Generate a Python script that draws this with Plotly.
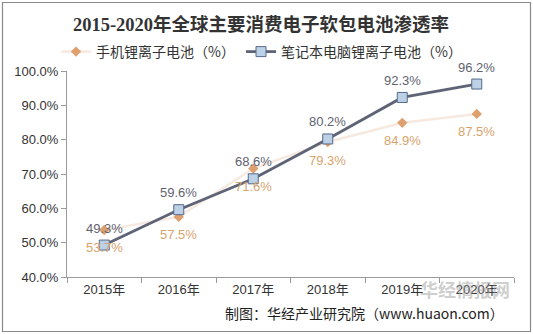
import plotly.graph_objects as go

years = ["2015年", "2016年", "2017年", "2018年", "2019年", "2020年"]
phone = [53.7, 57.5, 71.6, 79.3, 84.9, 87.5]
laptop = [49.3, 59.6, 68.6, 80.2, 92.3, 96.2]
phone_name = "手机锂离子电池（%）"
laptop_name = "笔记本电脑锂离子电池（%）"
title = "2015-2020年全球主要消费电子软包电池渗透率"
source = "制图：华经产业研究院（www.huaon.com）"
watermark = "华经情报网"

FONT = "Liberation Sans, Arial, Noto Sans CJK SC, sans-serif"
CJK = "Noto Sans CJK SC, Liberation Sans, sans-serif"

fig = go.Figure()
fig.add_trace(go.Scatter(
    x=years, y=phone, name=phone_name, mode="lines+markers", legend="legend",
    line=dict(color="#f6e9e0", width=2.5),
    marker=dict(symbol="diamond", size=8, color="#dfa070"),
))
fig.add_trace(go.Scatter(
    x=years, y=laptop, name=laptop_name, mode="lines+markers", legend="legend2",
    line=dict(color="#5f6376", width=2.8),
    marker=dict(symbol="square", size=10, color="#bcd0e6",
                line=dict(color="#56698a", width=1)),
))

# plot area in px: x 67..514, y 71..277
px_w, px_h = 447.0, 206.0
def px(x):
    return (x - 67) / px_w
def py(y):
    return (277 - y) / px_h

annotations = []
for yr, v in zip(years, laptop):
    annotations.append(dict(x=yr, y=v, xref="x", yref="y", text=f"{v:.1f}%",
                            showarrow=False, yshift=17, xanchor="center", yanchor="middle",
                            font=dict(color="#5f6370", size=13, family=FONT)))
for yr, v in zip(years, phone):
    annotations.append(dict(x=yr, y=v, xref="x", yref="y", text=f"{v:.1f}%",
                            showarrow=False, yshift=-18, xanchor="center", yanchor="middle",
                            font=dict(color="#d8a46e", size=13, family=FONT)))
annotations.append(dict(text=watermark, xref="paper", yref="paper", x=px(465), y=py(289),
                        xanchor="center", yanchor="middle", showarrow=False,
                        font=dict(size=18, color="rgba(160,160,160,0.5)", family=CJK,
                                  weight="bold")))
annotations.append(dict(text=source, xref="paper", yref="paper", x=px(506), y=py(313),
                        xanchor="right", yanchor="middle", showarrow=False,
                        font=dict(size=14, color="#222222", family=CJK)))

legend_common = dict(orientation="h", xanchor="left", yanchor="middle",
                     font=dict(size=14, color="#333333", family=CJK),
                     bgcolor="rgba(0,0,0,0)", itemwidth=30)

fig.update_layout(
    width=533, height=334,
    margin=dict(l=67, r=19, t=71, b=57),
    paper_bgcolor="white", plot_bgcolor="white",
    font=dict(family=FONT, size=13, color="#333333"),
    showlegend=True,
    legend=dict(x=px(56), y=py(52), **legend_common),
    legend2=dict(x=px(241), y=py(52), **legend_common),
    title=dict(text=title, x=px(261), xref="paper", y=1 - 25 / 334, yanchor="middle",
               xanchor="center",
               font=dict(size=18.5, color="#333333",
                         family="Liberation Serif, Times New Roman, Noto Sans CJK SC, serif",
                         weight="bold")),
    xaxis=dict(type="category", showline=True, linecolor="#9a9a9a", linewidth=1,
               ticks="outside", ticklen=5, tickcolor="#9a9a9a", tickson="boundaries",
               showgrid=False, zeroline=False,
               tickfont=dict(size=13, color="#333333", family=FONT),
               range=[-0.5, 5.5]),
    yaxis=dict(range=[40, 100], dtick=10, tick0=40, tickformat=".1f", ticksuffix="%",
               showline=True, linecolor="#9a9a9a", linewidth=1,
               ticks="outside", ticklen=5, tickcolor="#9a9a9a",
               showgrid=False, zeroline=False,
               tickfont=dict(size=13, color="#333333", family=FONT)),
    shapes=[dict(type="rect", xref="paper", yref="paper",
                 x0=px(2.5), x1=px(530.5), y0=py(331.5), y1=py(2.5),
                 line=dict(color="#8a8a8a", width=1.2), fillcolor="rgba(0,0,0,0)",
                 layer="below")],
    annotations=annotations,
)

fig.write_html("out.html")
